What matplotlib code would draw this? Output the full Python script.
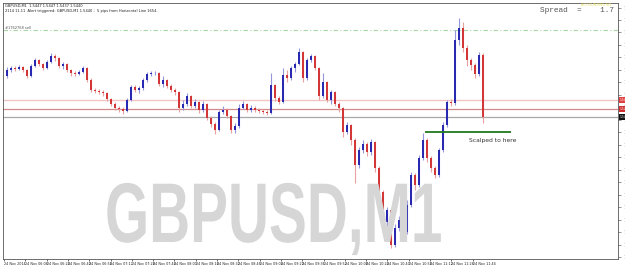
import numpy as np
import matplotlib
matplotlib.use("Agg")
import matplotlib.pyplot as plt
from matplotlib.patheffects import AbstractPathEffect
from matplotlib.transforms import Affine2D, blended_transform_factory

# --------------------------------------------------
# Data (GBPUSD M1 candles)
# --------------------------------------------------

first_open = 1.54896

close = [
    1.54920, 1.54928, 1.54924, 1.54932, 1.54920, 1.54896, 1.54936, 1.54960, 1.54944, 1.54928,
    1.54952, 1.54976, 1.54968, 1.54936, 1.54944, 1.54920, 1.54908, 1.54904, 1.54912, 1.54928,
    1.54880, 1.54840, 1.54836, 1.54832, 1.54828, 1.54804, 1.54784, 1.54768, 1.54764, 1.54756,
    1.54800, 1.54852, 1.54840, 1.54848, 1.54880, 1.54904, 1.54908, 1.54908, 1.54864, 1.54880,
    1.54856, 1.54840, 1.54832, 1.54768, 1.54784, 1.54816, 1.54776, 1.54792, 1.54760, 1.54784,
    1.54728, 1.54704, 1.54680, 1.54752, 1.54760, 1.54736, 1.54680, 1.54696, 1.54768, 1.54784,
    1.54760, 1.54768, 1.54760, 1.54756, 1.54752, 1.54748, 1.54860, 1.54808, 1.54792, 1.54900,
    1.54888, 1.54928, 1.54944, 1.54992, 1.54888, 1.54960, 1.54976, 1.54928, 1.54816, 1.54872,
    1.54800, 1.54832, 1.54784, 1.54768, 1.54672, 1.54700, 1.54640, 1.54540, 1.54600, 1.54624,
    1.54592, 1.54632, 1.54528, 1.54432, 1.54312, 1.54360, 1.54220, 1.54288, 1.54320, 1.54272,
    1.54380, 1.54500, 1.54460, 1.54568, 1.54640, 1.54568, 1.54528, 1.54500, 1.54600, 1.54700,
    1.54792, 1.54788, 1.55040, 1.55088, 1.55008, 1.54960, 1.54940, 1.54904, 1.54980, 1.54732,
]

high = [
    1.54932, 1.54936, 1.54936, 1.54940, 1.54936, 1.54924, 1.54944, 1.54968, 1.54964, 1.54948,
    1.54960, 1.54988, 1.54984, 1.54972, 1.54952, 1.54948, 1.54924, 1.54916, 1.54920, 1.54936,
    1.54932, 1.54888, 1.54848, 1.54844, 1.54840, 1.54832, 1.54808, 1.54792, 1.54776, 1.54772,
    1.54808, 1.54860, 1.54860, 1.54856, 1.54888, 1.54912, 1.54916, 1.54916, 1.54912, 1.54896,
    1.54884, 1.54864, 1.54848, 1.54836, 1.54800, 1.54828, 1.54820, 1.54804, 1.54796, 1.54796,
    1.54788, 1.54736, 1.54712, 1.54760, 1.54776, 1.54768, 1.54740, 1.54708, 1.54784, 1.54796,
    1.54788, 1.54780, 1.54776, 1.54768, 1.54764, 1.54760, 1.54908, 1.54864, 1.54816, 1.54928,
    1.54920, 1.54936, 1.54952, 1.55008, 1.54996, 1.54968, 1.54984, 1.54980, 1.54932, 1.54908,
    1.54876, 1.54840, 1.54836, 1.54792, 1.54772, 1.54712, 1.54704, 1.54648, 1.54612, 1.54640,
    1.54632, 1.54644, 1.54636, 1.54536, 1.54440, 1.54372, 1.54368, 1.54304, 1.54336, 1.54328,
    1.54400, 1.54512, 1.54508, 1.54580, 1.54668, 1.54648, 1.54576, 1.54536, 1.54608, 1.54712,
    1.54800, 1.54804, 1.55080, 1.55128, 1.55112, 1.55020, 1.54968, 1.54948, 1.54992, 1.54988,
]

low = [
    1.54888, 1.54912, 1.54916, 1.54920, 1.54912, 1.54888, 1.54892, 1.54932, 1.54936, 1.54920,
    1.54924, 1.54948, 1.54956, 1.54928, 1.54924, 1.54912, 1.54896, 1.54896, 1.54900, 1.54908,
    1.54872, 1.54832, 1.54828, 1.54824, 1.54816, 1.54796, 1.54776, 1.54760, 1.54752, 1.54744,
    1.54752, 1.54796, 1.54832, 1.54828, 1.54840, 1.54872, 1.54896, 1.54900, 1.54856, 1.54852,
    1.54848, 1.54832, 1.54820, 1.54752, 1.54760, 1.54776, 1.54768, 1.54768, 1.54748, 1.54752,
    1.54720, 1.54692, 1.54664, 1.54676, 1.54744, 1.54728, 1.54668, 1.54668, 1.54688, 1.54764,
    1.54752, 1.54752, 1.54752, 1.54748, 1.54744, 1.54740, 1.54744, 1.54796, 1.54784, 1.54788,
    1.54872, 1.54880, 1.54912, 1.54940, 1.54872, 1.54880, 1.54952, 1.54920, 1.54800, 1.54808,
    1.54792, 1.54784, 1.54776, 1.54752, 1.54652, 1.54664, 1.54620, 1.54468, 1.54528, 1.54588,
    1.54576, 1.54580, 1.54512, 1.54416, 1.54292, 1.54296, 1.54208, 1.54212, 1.54276, 1.54260,
    1.54264, 1.54372, 1.54440, 1.54452, 1.54560, 1.54552, 1.54512, 1.54488, 1.54492, 1.54592,
    1.54692, 1.54776, 1.54780, 1.55020, 1.54992, 1.54936, 1.54920, 1.54888, 1.54896, 1.54708,
]

# Horizontal lines / objects on the chart
level_upper = 1.54800
level_mid = 1.54764
level_bid = 1.54732
level_order = 1.55080
scalp_level = 1.54672

time_labels = [
    "24 Nov 2014", "24 Nov 06:08", "24 Nov 06:24", "24 Nov 06:40", "24 Nov 06:56",
    "24 Nov 07:12", "24 Nov 07:28", "24 Nov 07:44", "24 Nov 08:00", "24 Nov 08:16",
    "24 Nov 08:32", "24 Nov 08:48", "24 Nov 09:04", "24 Nov 09:20", "24 Nov 09:36",
    "24 Nov 09:52", "24 Nov 10:08", "24 Nov 10:24", "24 Nov 10:40", "24 Nov 10:56",
    "24 Nov 11:12", "24 Nov 11:28", "24 Nov 11:44",
]


class Squeeze(AbstractPathEffect):
    """Narrow a text horizontally around its left edge."""

    def __init__(self, sx):
        super().__init__()
        self.sx = sx

    def draw_path(self, renderer, gc, tpath, affine, rgbFace=None):
        tx = affine.get_matrix()[0, 2]
        squeeze = Affine2D().translate(-tx, 0).scale(self.sx, 1).translate(tx, 0)
        renderer.draw_path(gc, tpath, affine + squeeze, rgbFace)


# --------------------------------------------------
# Figure
# --------------------------------------------------

W, H = 625, 268
fig = plt.figure(figsize=(W / 100, H / 100), dpi=100)
ax = fig.add_axes([3 / W, 9 / H, 615 / W, 256 / H])

close = np.array(close)
high = np.array(high)
low = np.array(low)
opens = np.r_[first_open, close[:-1]]
x = np.arange(len(close))
up = close >= opens

# watermark
fig.text(105 / W, 1 - 242 / H, "GBPUSD,M1", fontsize=61, fontweight="bold",
         family="Liberation Sans", color="#d6d6d6", ha="left", va="baseline",
         path_effects=[Squeeze(0.67)], zorder=0)
ax.set_facecolor("none")

# levels
ax.axhline(level_upper, color="#f2c4c4", lw=1.0, zorder=1)
ax.axhline(level_mid, color="#d48a8a", lw=0.9, zorder=1)
ax.axhline(level_bid, color="#a8a8a8", lw=0.9, zorder=1)
ax.axhline(level_order, color="#a6d8a6", lw=0.8, ls=(0, (4, 2, 1, 2)), zorder=1)
ax.hlines(scalp_level, 104.5, 126, color="#1f7a1f", lw=1.3, zorder=4)

# candles
wick_col = np.where(up, "#9696dc", "#eaa0a0")
body_col = np.where(up, "#2828b0", "#d23636")
ax.vlines(x, low, high, colors=wick_col, lw=0.8, zorder=2)
body_h = np.maximum(np.abs(close - opens), 0.00002)
ax.bar(x, body_h, bottom=np.minimum(opens, close), width=0.45,
       color=body_col, linewidth=0, zorder=3)

ax.set_xlim(-1, -1 + 615 / 4)
ax.set_ylim(1.54164, 1.55188)

# axes styling like the terminal
for side in ["left", "top", "bottom", "right"]:
    ax.spines[side].set_color("#555555")
    ax.spines[side].set_linewidth(0.6)

ax.yaxis.tick_right()
yt = np.arange(1.5517, 1.5416, -0.0005)
ax.set_yticks(yt)
ax.set_yticklabels([f"{v:.4f}" for v in yt], fontsize=4, color="#333333")
ax.tick_params(axis="y", length=2, width=0.4, pad=1.5, colors="#444444")

xt = -0.75 + 5.325 * np.arange(len(time_labels))
ax.set_xticks(xt)
ax.set_xticklabels(time_labels, fontsize=2.4, ha="left", color="#222222")
ax.tick_params(axis="x", length=1.5, width=0.4, pad=1.0)

# price tags on the right scale
tag_tr = blended_transform_factory(ax.transAxes, ax.transData)
for lvl, col in [(level_upper, "#e04040"), (level_mid, "#d03030"), (level_bid, "#111111")]:
    ax.text(1.003, lvl, f"{lvl:.4f}", transform=tag_tr, fontsize=2.2, color="white",
            va="center", ha="left", clip_on=False,
            bbox=dict(boxstyle="square,pad=0.2", fc=col, ec="none"), zorder=6)

# header texts
fig.text(5 / W, 1 - 6 / H, "GBPUSD,M1  1.5447 1.5447 1.5437 1.5440", fontsize=2.6,
         color="#222222", va="center")
fig.text(5 / W, 1 - 11 / H,
         "2114 11.11  Alert triggered: GBPUSD,M1 1.5440 ;  5 pips from Horizontal Line 1654.",
         fontsize=2.6, color="#222222", va="center")
ax.text(0.004, level_order, "#1762768 sell", fontsize=2.6, color="#555555",
        transform=tag_tr, va="bottom", ha="left")

# spread display
fig.text(596 / W, 1 - 5 / H, "ACCOUNTING NO", fontsize=2.5, color="#e6df5a",
         ha="center", va="center")
fig.text(614 / W, 1 - 10 / H, "Spread  =    1.7", fontsize=5.6,
         family="Liberation Mono", color="#555555", ha="right", va="center")

ax.text(115.5, scalp_level - 0.00036, "Scalped to here", fontsize=4.3,
        color="#333333", ha="left", va="center")

fig.savefig("out.png", dpi=100)
